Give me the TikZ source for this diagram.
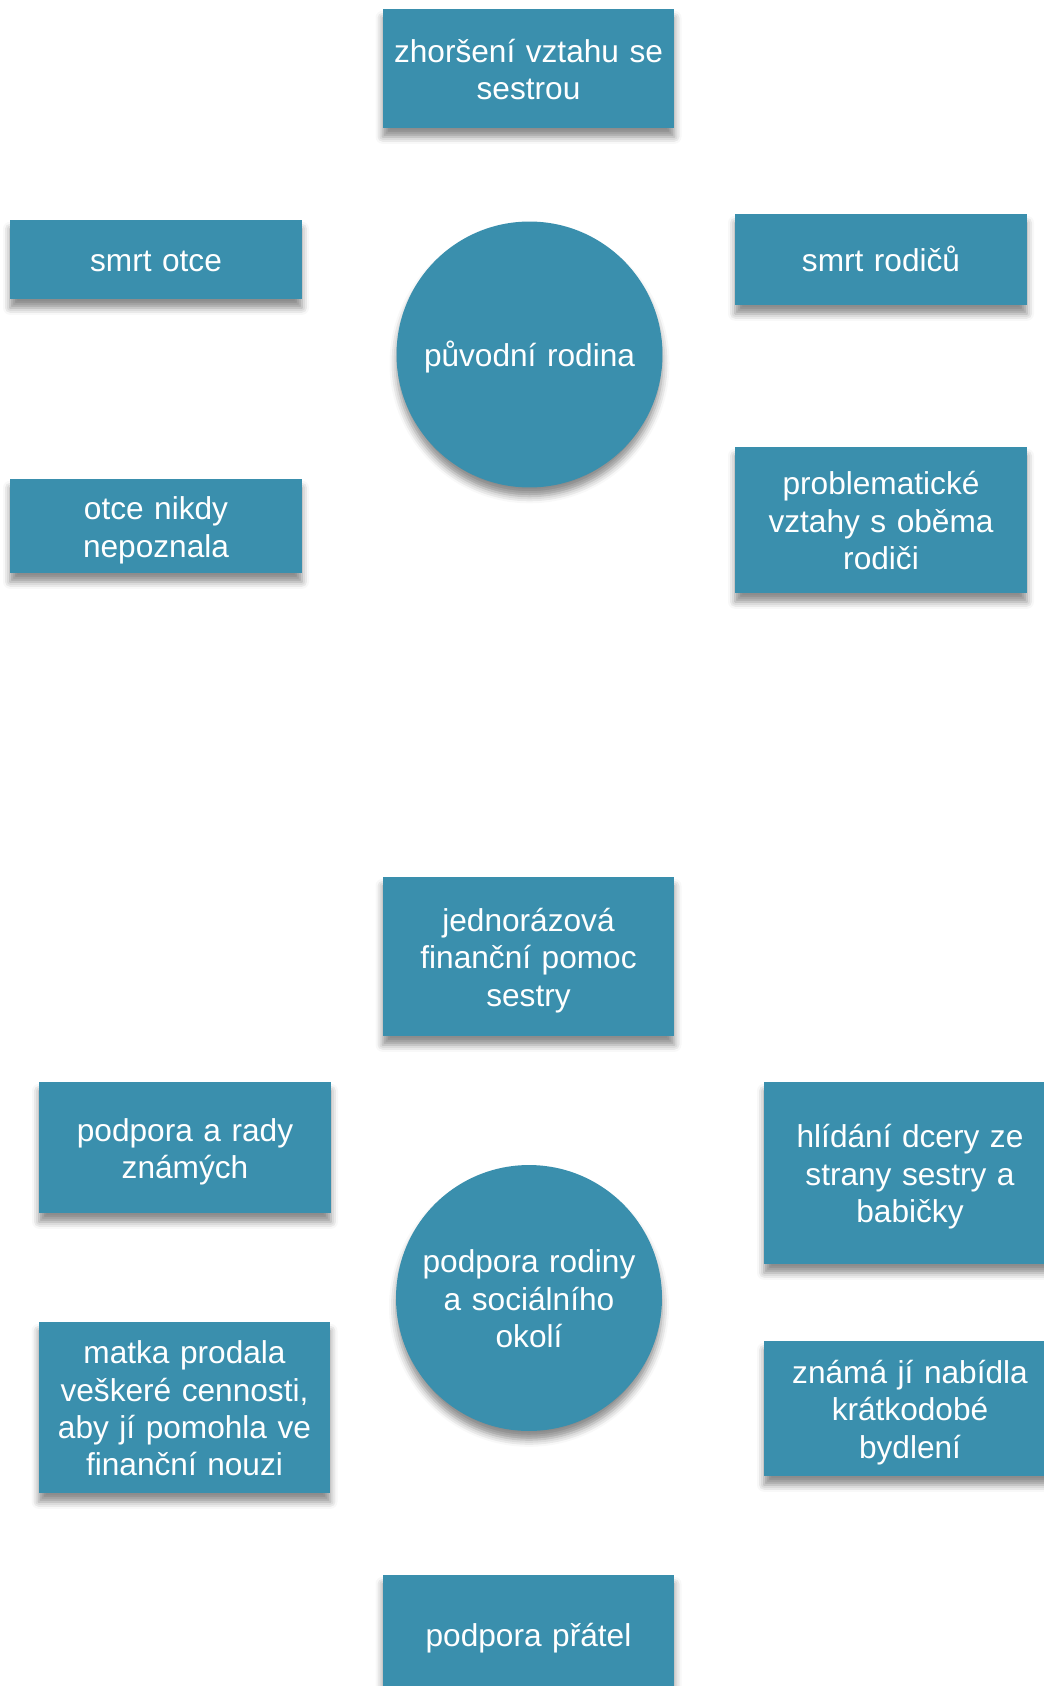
\documentclass[tikz,border=0pt]{standalone}
\usepackage{fontspec}
\setmainfont{Liberation Sans}
\usetikzlibrary{shadows.blur}
\definecolor{tile}{RGB}{58,143,173}
\newcommand{\topstrut}{\rule{0pt}{18.5pt}}
\newcommand{\botstrut}{\rule[-4.5pt]{0pt}{4.5pt}}

\begin{document}
\begin{tikzpicture}[x=0.02cm,y=-0.02cm]
  \tikzset{ box/.style={rectangle,fill=tile,text=white,align=center,inner sep=0pt,
      minimum width=5.84cm,text width=5.84cm,font=\fontsize{18}{21.3}\selectfont,
      execute at begin node=\topstrut,execute at end node=\botstrut,
      blur shadow={shadow xshift=0pt,shadow yshift=-5pt,shadow blur radius=4pt,shadow opacity=45}},
    hub/.style={box,circle,text width=4.4cm,minimum size=5.32cm},
  }
  \useasboundingbox (0,0) rectangle (1044,1686);
  \clip (0,0) rectangle (1044,1686);

  % upper group
  \node[hub] (rodina) at (529.5,354.5) {původní rodina};
  \node[box,minimum height=2.38cm] (sestra)     at (528.5,68.5) {zhoršení vztahu se\\sestrou};
  \node[box,minimum height=1.58cm] (otec)       at (156,259.5)  {smrt otce};
  \node[box,minimum height=1.82cm] (rodice)     at (881,259.5)  {smrt rodičů};
  \node[box,minimum height=1.88cm] (nepoznala)  at (156,526)    {otce nikdy\\nepoznala};
  \node[box,minimum height=2.92cm] (vztahy)     at (881,520)    {problematické\\vztahy s oběma\\rodiči};

  % lower group
  \node[hub] (okoli) at (529,1298) {podpora rodiny\\a sociálního\\okolí};
  \node[box,minimum height=3.18cm] (pomoc)      at (528.5,956.5) {jednorázová\\finanční pomoc\\sestry};
  \node[box,minimum height=2.62cm] (znami)      at (185,1147.5)  {podpora a rady\\známých};
  \node[box,minimum height=3.64cm] (hlidani)    at (910,1173)    {hlídání dcery ze\\strany sestry a\\babičky};
  \node[box,minimum height=3.42cm] (matka)      at (184.5,1407.5) {matka prodala\\veškeré cennosti,\\aby jí pomohla ve\\finanční nouzi};
  \node[box,minimum height=2.70cm] (bydleni)    at (910,1408.5)  {známá jí nabídla\\krátkodobé\\bydlení};
  \node[box,minimum height=2.36cm] (pratele)    at (528.5,1634)  {podpora přátel};
\end{tikzpicture}
\end{document}
